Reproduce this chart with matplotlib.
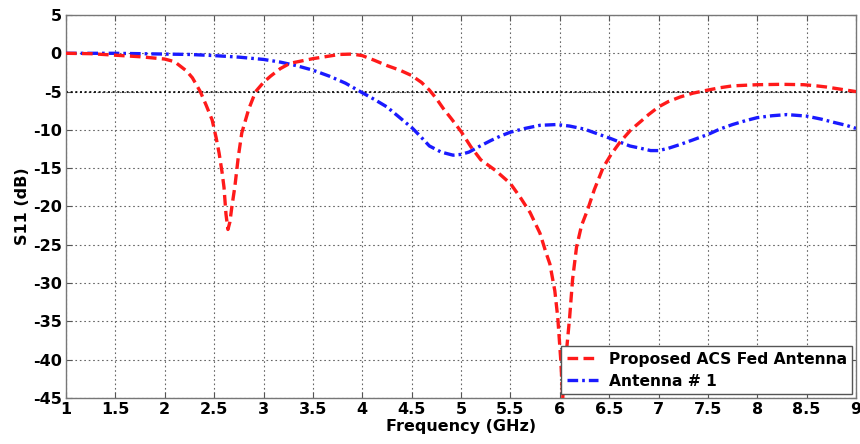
import matplotlib
matplotlib.use("Agg")
import matplotlib.pyplot as plt

# Proposed ACS Fed Antenna (red dashed)
red_freq = [1.0, 1.25, 1.5, 1.75, 2.0, 2.1, 2.15, 2.22, 2.28, 2.36, 2.42, 2.48, 2.52, 2.55,
            2.58, 2.6, 2.62, 2.64, 2.66, 2.68, 2.71, 2.745, 2.78, 2.85, 2.92, 3.0, 3.07,
            3.17, 3.27, 3.5, 3.77, 3.9, 4.0, 4.12, 4.25, 4.38, 4.5, 4.6, 4.68, 4.75, 4.82,
            4.9, 5.0, 5.1, 5.2, 5.35, 5.5, 5.6, 5.7, 5.8, 5.86, 5.9, 5.95, 5.98, 6.01, 6.03,
            6.06, 6.1, 6.13, 6.17, 6.22, 6.28, 6.35, 6.44, 6.52, 6.61, 6.72, 6.82, 6.9, 7.0,
            7.1, 7.22, 7.35, 7.5, 7.62, 7.75, 8.0, 8.25, 8.47, 8.6, 8.7, 8.85, 9.0]
red_s11 = [0, -0.05, -0.25, -0.45, -0.75, -1.1, -1.6, -2.3, -3.2, -5, -6.8, -8.7, -11, -13,
           -15.5, -17.5, -21, -23, -22, -20, -17.4, -13.5, -10.4, -7.3, -5, -3.8, -3.0,
           -2.0, -1.3, -0.7, -0.15, -0.1, -0.3, -0.9, -1.6, -2.2, -2.9, -3.8, -4.8, -5.9, -7.2,
           -8.5, -10.2, -12.2, -13.9, -15.3, -17, -18.8, -20.8, -23.5, -26, -27.5, -31, -34.5, -40, -45,
           -40, -34.5, -29.5, -25.3, -22.5, -20.5, -17.8, -14.9, -13.2, -11.6, -10, -8.9, -8, -7.0,
           -6.3, -5.7, -5.2, -4.8, -4.5, -4.25, -4.1, -4.05, -4.1, -4.25, -4.4, -4.7, -5.0]

# Antenna # 1 (blue dash-dot)
blue_freq = [1.0, 1.25, 1.5, 1.75, 2.0, 2.25, 2.5, 2.75, 3.0, 3.17, 3.33, 3.5, 3.67, 3.83,
             3.98, 4.12, 4.25, 4.38, 4.51, 4.6, 4.68, 4.8, 4.92, 5.0, 5.08, 5.18, 5.3, 5.4,
             5.5, 5.65, 5.8, 5.97, 6.1, 6.25, 6.38, 6.51, 6.61, 6.71, 6.82, 6.92, 7.0, 7.1,
             7.22, 7.35, 7.5, 7.62, 7.75, 7.88, 8.0, 8.15, 8.3, 8.5, 8.65, 8.77, 8.9, 9.0]
blue_s11 = [0, 0, 0, -0.05, -0.1, -0.15, -0.3, -0.5, -0.8, -1.15, -1.6, -2.2, -3.0, -3.9,
            -5, -6, -7, -8.4, -9.8, -11, -12.1, -12.9, -13.3, -13.2, -12.9, -12.2, -11.4, -10.8,
            -10.3, -9.8, -9.4, -9.3, -9.5, -9.9, -10.5, -11.1, -11.6, -12.1, -12.4, -12.7, -12.7, -12.4,
            -11.9, -11.3, -10.6, -9.9, -9.3, -8.8, -8.4, -8.15, -8.0, -8.2, -8.6, -9.0, -9.4, -9.8]

x_ticks = [1, 1.5, 2, 2.5, 3, 3.5, 4, 4.5, 5, 5.5, 6, 6.5, 7, 7.5, 8, 8.5, 9]
x_labels = ["1", "1.5", "2", "2.5", "3", "3.5", "4", "4.5", "5", "5.5", "6", "6.5", "7", "7.5", "8", "8.5", "9"]
y_ticks = [5, 0, -5, -10, -15, -20, -25, -30, -35, -40, -45]
ref_level = -5

plt.rcParams['font.family'] = ['DejaVu Sans']
plt.rcParams['font.weight'] = 'bold'

fig = plt.figure(figsize=(8.6, 4.44), dpi=100)
ax = fig.add_axes([66/860, 1-398/444, (856-66)/860, (398-15)/444])

ax.set_xlim(1, 9)
ax.set_ylim(-45, 5)
ax.set_xticks(x_ticks)
ax.set_xticklabels(x_labels)
ax.set_yticks(y_ticks)
ax.set_yticklabels([str(v) for v in y_ticks])

ax.grid(True, color='#666666', linestyle=(0, (1.5, 2.5)), linewidth=0.8)
ax.axhline(ref_level, color='black', linestyle=(0, (1.2, 1.6)), linewidth=1.2, zorder=2)

ax.plot(red_freq, red_s11, color='#ff1a1a', linewidth=2.4, linestyle=(0, (3.2, 1.6)),
        label='Proposed ACS Fed Antenna', zorder=4)
ax.plot(blue_freq, blue_s11, color='#1a1aff', linewidth=2.4, linestyle=(0, (3.2, 1.2, 0.8, 1.2)),
        label='Antenna # 1', zorder=3)

for s in ax.spines.values():
    s.set_color('#777777')
    s.set_linewidth(1.0)

ax.tick_params(direction='in', length=4, top=True, right=True, color='#555555',
               labelsize=11.5, pad=3)
for lbl in ax.get_xticklabels() + ax.get_yticklabels():
    lbl.set_fontweight('bold')

ax.set_xlabel('Frequency (GHz)', fontsize=11.5, fontweight='bold', labelpad=1)
ax.set_ylabel('S11 (dB)', fontsize=11.5, fontweight='bold', labelpad=2)

leg = ax.legend(loc='lower right', frameon=True, fancybox=False,
                handlelength=2.0, borderpad=0.35, labelspacing=0.45, handletextpad=0.7,
                borderaxespad=0.25, prop={'weight': 'bold', 'size': 11.2})
leg.get_frame().set_edgecolor('#555555')
leg.get_frame().set_linewidth(1.0)
leg.get_frame().set_alpha(1.0)

fig.savefig('out.png', dpi=100)
